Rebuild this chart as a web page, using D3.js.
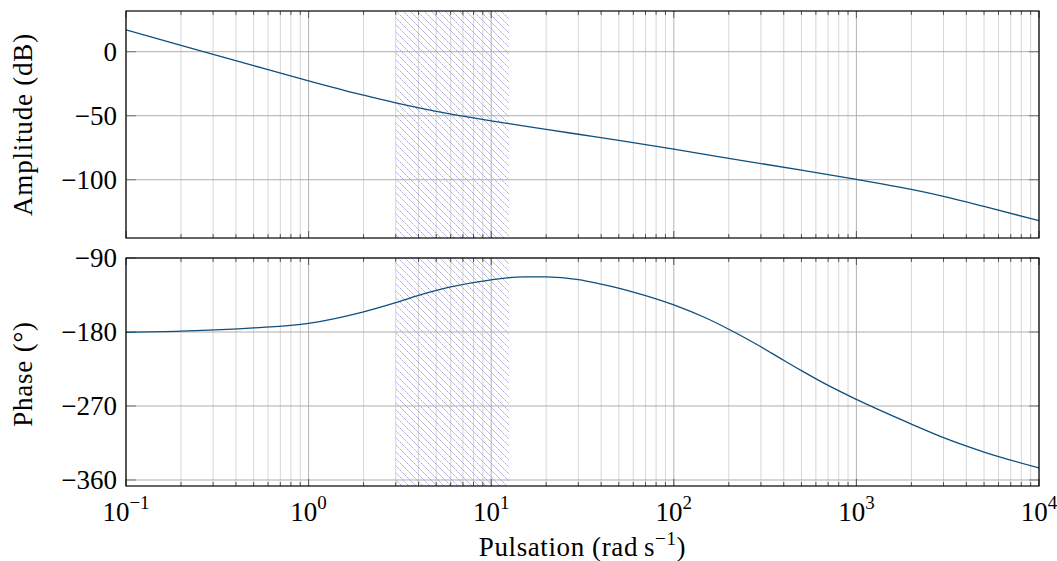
<!DOCTYPE html>
<html>
<head>
<meta charset="utf-8">
<script src="https://cdn.jsdelivr.net/npm/d3@7"></script>
<style>
  html, body { margin: 0; padding: 0; background: #fff; }
  svg { display: block; }
  text { font-family: "Liberation Serif", "DejaVu Serif", serif; fill: #000; }
</style>
</head>
<body>
<svg id="chart" width="1057" height="561"></svg>
<script>
// ---- Data ----
const omega      = [0.1, 0.2, 0.5, 1, 2, 3, 5, 7, 10, 15, 20, 30, 50, 100, 200, 500, 1000, 2000, 3000, 5000, 10000];
const amplitude  = [17.0, 4.97, -10.89, -22.71, -33.98, -39.98, -46.6, -50.37, -54.01, -57.84, -60.66, -64.47, -69.25, -76.09, -83.31, -92.48, -99.7, -107.6, -113.0, -120.8, -132.0];

const omegaPh    = [0.1, 0.2, 0.5, 1, 2, 3, 4, 6, 10, 15, 20, 30, 40, 60, 100, 150, 200, 300, 380, 500, 700, 1000, 2000, 3000, 5000, 10000];
const phase      = [-180.4, -179, -175, -169.5, -155.5, -144.3, -135.5, -125.2, -116.5, -112.9, -113.0, -116.3, -121.9, -131.4, -147, -163, -176.6, -198, -211.5, -227, -245, -262, -292, -308.5, -326, -345.3];

const hatchBand  = [3, 12.5];
const ampTicks   = [0, -50, -100];
const phaseTicks = [-90, -180, -270, -360];
const xDecades   = [-1, 0, 1, 2, 3, 4];
const ampDomain  = [-145.5, 31.8];
const phaseDomain= [-367.3, -90];
const xDomain    = [0.1, 10000];
const labels = { amp: "Amplitude (dB)", phase: "Phase (°)", x: "Pulsation (rad\u2009s", xsup: "−1", xend: ")" };

// ---- Layout ----
const L = 126, R = 1039;
const top1 = 11, bot1 = 238, top2 = 258, bot2 = 486;
const lineColor = "#0e4f7e";
const FS = 27;
const svg = d3.select("#chart");

const x = d3.scaleLog().domain(xDomain).range([L, R]);
const yA = d3.scaleLinear().domain(ampDomain).range([bot1, top1]);
const yP = d3.scaleLinear().domain(phaseDomain).range([bot2, top2]);

const majorX = xDecades.map(d => Math.pow(10, d));
const minorX = [];
xDecades.slice(0, -1).forEach(d => { for (let k = 2; k <= 9; k++) minorX.push(k * Math.pow(10, d)); });

// hatch pattern
const defs = svg.append("defs");
const pat = defs.append("pattern").attr("id", "hatch").attr("patternUnits", "userSpaceOnUse")
  .attr("width", 7).attr("height", 7);
pat.append("path").attr("d", "M-1,-1 L8,8 M-8,-1 L1,8 M6,-1 L15,8")
  .attr("stroke", "#9d9ddb").attr("stroke-width", 1).attr("stroke-dasharray", "2,1").attr("fill", "none");

function panel(id, yScale, top, bot, yTicks, xs, ys) {
  defs.append("clipPath").attr("id", "clip" + id).append("rect")
    .attr("x", L).attr("y", top).attr("width", R - L).attr("height", bot - top);
  const g = svg.append("g");
  g.selectAll(".mg").data(minorX).join("line")
    .attr("x1", d => x(d)).attr("x2", d => x(d)).attr("y1", top).attr("y2", bot)
    .attr("stroke", "#d6d6d6").attr("stroke-width", 1);
  g.append("rect").attr("x", x(hatchBand[0])).attr("y", top)
    .attr("width", x(hatchBand[1]) - x(hatchBand[0])).attr("height", bot - top)
    .attr("fill", "url(#hatch)");
  g.selectAll(".Mg").data(majorX).join("line")
    .attr("x1", d => x(d)).attr("x2", d => x(d)).attr("y1", top).attr("y2", bot)
    .attr("stroke", "#b3b3b3").attr("stroke-width", 1);
  g.selectAll(".hg").data(yTicks).join("line")
    .attr("x1", L).attr("x2", R).attr("y1", d => yScale(d)).attr("y2", d => yScale(d))
    .attr("stroke", "#adadad").attr("stroke-width", 1);
  const tk = "#555";
  minorX.forEach(v => {
    g.append("line").attr("x1", x(v)).attr("x2", x(v)).attr("y1", top).attr("y2", top + 4).attr("stroke", tk);
    g.append("line").attr("x1", x(v)).attr("x2", x(v)).attr("y1", bot).attr("y2", bot - 4).attr("stroke", tk);
  });
  majorX.forEach(v => {
    g.append("line").attr("x1", x(v)).attr("x2", x(v)).attr("y1", top).attr("y2", top + 7).attr("stroke", tk);
    g.append("line").attr("x1", x(v)).attr("x2", x(v)).attr("y1", bot).attr("y2", bot - 7).attr("stroke", tk);
  });
  yTicks.forEach(v => {
    g.append("line").attr("x1", L).attr("x2", L + 10).attr("y1", yScale(v)).attr("y2", yScale(v)).attr("stroke", "#777");
    g.append("line").attr("x1", R).attr("x2", R - 10).attr("y1", yScale(v)).attr("y2", yScale(v)).attr("stroke", "#777");
  });
  const line = d3.line().x((d, i) => x(xs[i])).y((d, i) => yScale(ys[i])).curve(d3.curveMonotoneX);
  g.append("path").datum(xs).attr("d", line).attr("fill", "none")
    .attr("stroke", lineColor).attr("stroke-width", 1.3).attr("clip-path", `url(#clip${id})`);
  g.append("rect").attr("x", L).attr("y", top).attr("width", R - L).attr("height", bot - top)
    .attr("fill", "none").attr("stroke", "#000").attr("stroke-width", 1.2);
  g.selectAll(".yl").data(yTicks).join("text")
    .attr("x", L - 9).attr("y", d => yScale(d)).attr("dy", "0.33em")
    .attr("text-anchor", "end").attr("font-size", FS)
    .text(d => d < 0 ? "−" + Math.abs(d) : String(d));
}

panel("A", yA, top1, bot1, ampTicks, omega, amplitude);
panel("P", yP, top2, bot2, phaseTicks, omegaPh, phase);

xDecades.forEach(d => {
  const t = svg.append("text").attr("x", x(Math.pow(10, d))).attr("y", 521)
    .attr("text-anchor", "middle").attr("font-size", FS);
  t.append("tspan").text("10");
  t.append("tspan").attr("dy", -12).attr("font-size", 19).text(d < 0 ? "−" + Math.abs(d) : String(d));
});

svg.append("text").attr("transform", `translate(32,${(top1 + bot1) / 2}) rotate(-90)`)
  .attr("text-anchor", "middle").attr("font-size", FS).attr("letter-spacing", 0.8).text(labels.amp);
svg.append("text").attr("transform", `translate(32,${(top2 + bot2) / 2 + 2}) rotate(-90)`)
  .attr("text-anchor", "middle").attr("font-size", FS).attr("letter-spacing", 0.8).text(labels.phase);
const xl = svg.append("text").attr("x", (L + R) / 2).attr("y", 556)
  .attr("text-anchor", "middle").attr("font-size", FS).attr("letter-spacing", 0.6);
xl.append("tspan").text(labels.x);
xl.append("tspan").attr("dy", -11).attr("font-size", 19).text(labels.xsup);
xl.append("tspan").attr("dy", 11).text(labels.xend);
</script>
</body>
</html>
